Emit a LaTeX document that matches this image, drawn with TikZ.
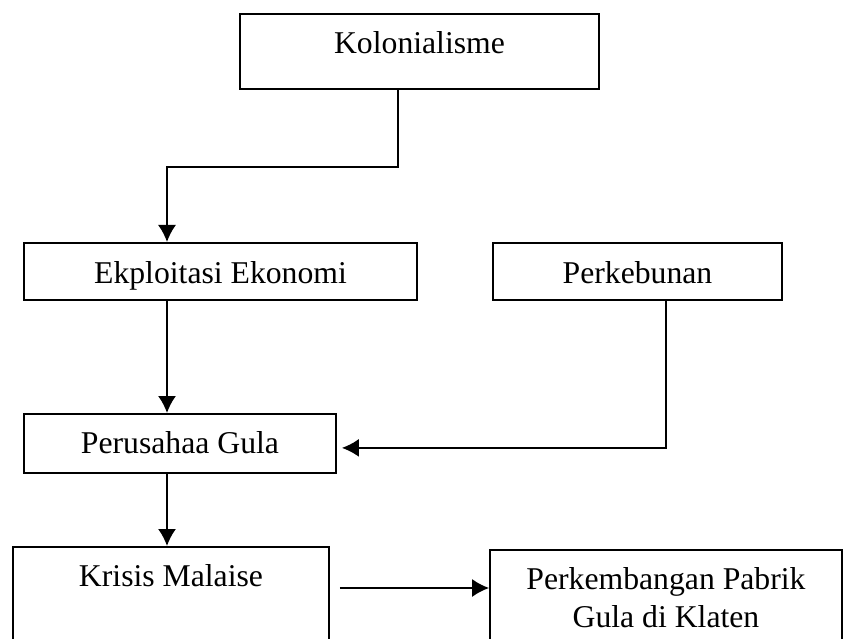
\documentclass[tikz,border=0pt]{standalone}
\usepackage{fontspec}
\setmainfont{Liberation Serif}
\usetikzlibrary{arrows.meta,positioning}

\begin{document}
\begin{tikzpicture}[x=1pt, y=-1pt, line width=1.8pt,
    kotak/.style={rectangle, draw, anchor=north, inner sep=0pt, align=center, font=\fontsize{31.7}{38}\selectfont},
    panah/.style={-{Latex[length=17pt,width=18pt]}}]
    \useasboundingbox (0,0) rectangle (854,639);
    \node [kotak, minimum width=359pt, text height=40pt, text depth=35pt] (kolo) at (419.5,13) {Kolonialisme};
    \node [kotak, minimum width=393pt, text height=41pt, text depth=16pt] (eksp) at (220.5,242) {Ekploitasi Ekonomi};
    \node [kotak, minimum width=289pt, text height=41pt, text depth=16pt] (kebun) at (637.5,242) {Perkebunan};
    \node [kotak, minimum width=312pt, text height=40pt, text depth=19pt] (pg) at (180,413) {Perusahaa Gula};
    \node [kotak, minimum width=316pt, text height=40pt, text depth=150pt] (krisis) at (171,546) {Krisis Malaise};
    \node [kotak, minimum width=352pt, text height=78pt, text depth=150pt] (pabrik) at (666,549) {Perkembangan Pabrik\\Gula di Klaten};

    \draw [panah] ([xshift=-21.5pt]kolo.south) -- ++(0,77) -| ([xshift=-53.5pt]eksp.north);
    \draw [panah] ([xshift=-53.5pt]eksp.south) -- ([xshift=-53.5pt]eksp.south |- pg.north);
    \draw [panah, shorten >=5pt] ([xshift=28.5pt]kebun.south) |- ([yshift=-4.5pt]pg.east);
    \draw [panah] ([xshift=-13pt]pg.south) -- ([xshift=-13pt]pg.south |- krisis.north);
    \draw [panah, shorten <=10pt] ([yshift=-42pt]krisis.north east) -- ([yshift=-42pt]krisis.north east -| pabrik.west);
\end{tikzpicture}
\end{document}
